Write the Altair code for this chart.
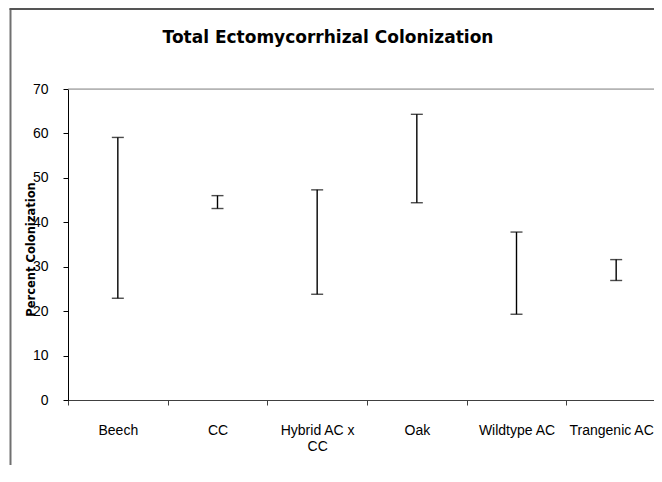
import altair as alt
import pandas as pd

categories = ["Beech", "CC", "Hybrid AC x CC", "Oak", "Wildtype AC", "Trangenic AC"]
lower = [22.9, 43.1, 23.8, 44.4, 19.3, 26.9]
upper = [59.1, 46.0, 47.3, 64.3, 37.8, 31.6]
y_ticks = [0, 10, 20, 30, 40, 50, 60, 70]

df = pd.DataFrame({"category": categories, "lower": lower, "upper": upper})
frame_df = pd.DataFrame({"k": [0]})

label_expr = "datum.value == 'Hybrid AC x CC' ? ['Hybrid AC x', 'CC'] : datum.label"
last_test = "datum.value == 'Trangenic AC'"

x_enc = alt.X(
    "category:N",
    sort=categories,
    scale=alt.Scale(range=[0, 598], paddingInner=0, paddingOuter=0),
    axis=alt.Axis(
        title=None, labelAngle=0, tickBand="extent", labelExpr=label_expr,
        labelFont="Liberation Sans", labelFontSize=14,
        labelOffset={"condition": {"test": last_test, "value": -5}, "value": 0},
        labelColor="#000000",
        labelLineHeight=16, labelPadding=18, tickSize=5, tickColor="#404040",
        domainColor="#404040", domainWidth=1.2, labelBaseline="top",
    ),
)

y_scale = alt.Scale(domain=[0, 70], nice=False, zero=True)
y_axis = alt.Axis(
    values=y_ticks, title="Percent Colonization", grid=False,
    labelFont="Liberation Sans", labelFontSize=14, labelColor="#000000",
    labelPadding=15, tickSize=5, tickColor="#000000", domainColor="#000000",
    titleFont="DejaVu Sans", titleFontSize=11.5, titleFontWeight="bold",
    titleColor="#000000", titleAngle=270, titleX=-37, titleY=160,
    titleAlign="center", titleBaseline="middle",
)

base = alt.Chart(df)
rule = base.mark_rule(color="#000000", strokeWidth=1.4).encode(
    x=x_enc,
    y=alt.Y("lower:Q", scale=y_scale, axis=y_axis, title="Percent Colonization"),
    y2="upper:Q",
)
tick_lo = base.mark_tick(color="#000000", thickness=1.4, size=12).encode(
    x=x_enc, y=alt.Y("lower:Q", scale=y_scale, axis=y_axis, title="Percent Colonization")
)
tick_hi = base.mark_tick(color="#000000", thickness=1.4, size=12).encode(
    x=x_enc, y=alt.Y("upper:Q", scale=y_scale, axis=y_axis, title="Percent Colonization")
)
top_line = alt.Chart(frame_df).mark_rule(color="#8c8c8c", strokeWidth=1).encode(
    y=alt.datum(70), x=alt.value(0), x2=alt.value(586)
)
frame_left = alt.Chart(frame_df).mark_rule(color="#707070", strokeWidth=2).encode(
    x=alt.value(-57.5), y=alt.value(-80.5), y2=alt.value(376)
)
frame_top = alt.Chart(frame_df).mark_rule(color="#555555", strokeWidth=2).encode(
    x=alt.value(-58.5), x2=alt.value(586), y=alt.value(-80)
)

chart = alt.layer(frame_left, frame_top, top_line, rule, tick_lo, tick_hi).properties(
    width=586,
    height=311,
    autosize=alt.AutoSizeParams(type="none"),
    padding={"left": 60, "top": 81, "right": 0, "bottom": 65},
    title=alt.TitleParams(
        "Total Ectomycorrhizal Colonization", font="DejaVu Sans", fontSize=17,
        fontWeight="bold", color="#000000", anchor="middle", frame="group",
        dx=-33, dy=43, offset=4,
    ),
).configure_view(strokeOpacity=0).configure(background="white")

chart.save("out.html", embed_options={"renderer": "svg", "actions": False})
